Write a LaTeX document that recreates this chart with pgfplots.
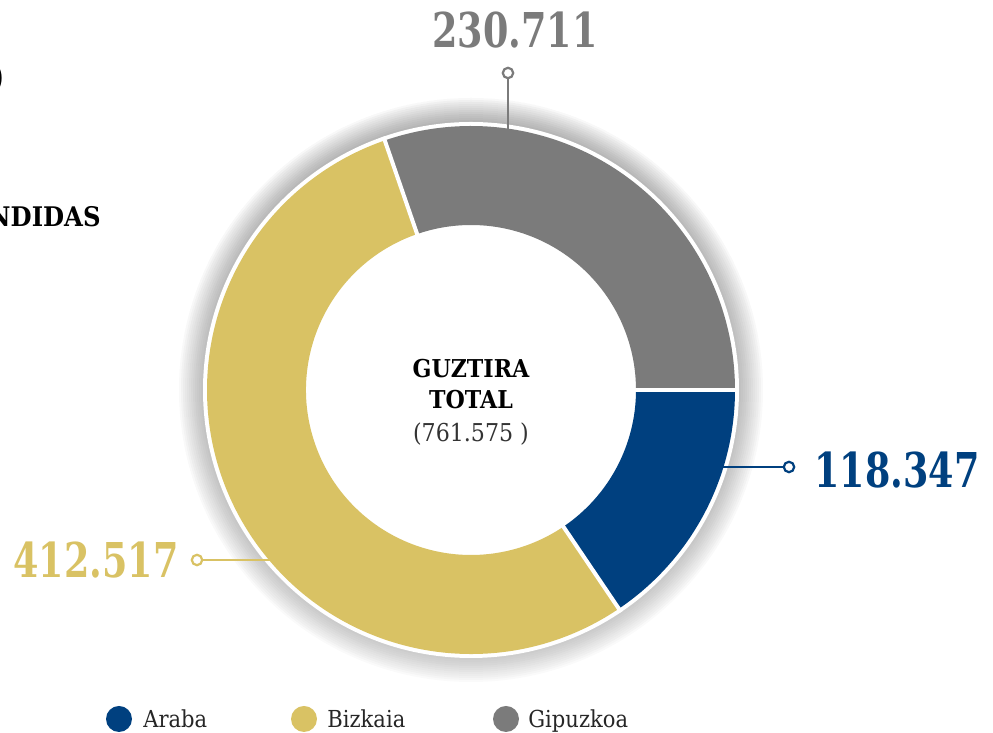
\documentclass[border=0pt]{standalone}
\usepackage{pgfplots}
\pgfplotsset{compat=1.18}
\usepackage{fontspec}
\setmainfont{DejaVu Serif}[FakeStretch=0.9]
\newfontfamily\numfont{DejaVu Serif}[FakeStretch=0.76]
\definecolor{araba}{HTML}{00407F}
\definecolor{bizkaia}{HTML}{D9C264}
\definecolor{gipuzkoa}{HTML}{7B7B7B}
\definecolor{shade}{HTML}{6A6378}

% values (thousands)
\def\vAraba{118.347}
\def\vBizkaia{412.517}
\def\vGipuzkoa{230.711}
\pgfmathsetmacro\tot{\vAraba+\vBizkaia+\vGipuzkoa}
\pgfmathsetmacro\aA{-360*(\vAraba/\tot)}
\pgfmathsetmacro\aB{\aA-360*(\vBizkaia/\tot)}
\pgfmathsetmacro\aC{\aB-360*(\vGipuzkoa/\tot)}

% ring sector: start angle, end angle, colour
\newcommand\sector[3]{%
  \fill[#3] ([shift={(#1:132pt)}]c) arc[start angle=#1, end angle=#2, radius=132pt]
    -- ([shift={(#2:82.5pt)}]c) arc[start angle=#2, end angle=#1, radius=82.5pt] -- cycle;}
\newcommand\sep[1]{%
  \draw[white, line width=2pt] ([shift={(#1:80pt)}]c) -- ([shift={(#1:134pt)}]c);}

\begin{document}
\begin{tikzpicture}
\begin{axis}[x=0.5pt, y=0.5pt, xmin=0, xmax=993, ymin=0, ymax=733,
  hide axis, clip=false, scale only axis]
  \coordinate (ll) at (axis cs:0,0);
  \coordinate (ur) at (axis cs:993,733);
  \coordinate (c) at (axis cs:471,343);
  % soft shadow
  \pgfplotsinvokeforeach{134,135,...,146}{%
    \fill[shade, opacity=0.018] (c) circle[radius=#1pt];}
  \fill[white] (c) circle[radius=134pt];
  \sector{0}{\aA}{araba}
  \sector{\aA}{\aB}{bizkaia}
  \sector{\aB}{\aC}{gipuzkoa}
  \sep{0}\sep{\aA}\sep{\aB}
  % connectors
  \draw[gipuzkoa, line width=1.1pt] (axis cs:508,603) -- (axis cs:508,655);
  \draw[gipuzkoa, line width=1.1pt, fill=white] (axis cs:508,660) circle[radius=2.6pt];
  \draw[araba, line width=1.1pt] (axis cs:722,266) -- (axis cs:784,266);
  \draw[araba, line width=1.1pt, fill=white] (axis cs:789,266) circle[radius=2.6pt];
  \draw[bizkaia, line width=1.1pt] (axis cs:270,173) -- (axis cs:202,173);
  \draw[bizkaia, line width=1.1pt, fill=white] (axis cs:197,173) circle[radius=2.6pt];
  % value labels
  \node[text=gipuzkoa, font=\numfont\bfseries\fontsize{24}{24}\selectfont] at (axis cs:515,703) {230.711};
  \node[text=araba, font=\numfont\bfseries\fontsize{24}{24}\selectfont] at (axis cs:897,263) {118.347};
  \node[text=bizkaia, font=\numfont\bfseries\fontsize{24}{24}\selectfont] at (axis cs:96,173) {412.517};
  % centre
  \node[font=\bfseries\fontsize{12.3}{14}\selectfont] at (axis cs:471,364) {GUZTIRA};
  \node[font=\bfseries\fontsize{12.3}{14}\selectfont] at (axis cs:471,333) {TOTAL};
  \node[text=black!80, font=\fontsize{12.3}{14}\selectfont] at (axis cs:471,299) {(761.575 )};
  % left text (cut by the page edge, as in the source)
  \node[anchor=east, inner sep=0pt, font=\bfseries\fontsize{20}{22}\selectfont] at (axis cs:6,655) {(2022)};
  \node[anchor=east, inner sep=0pt, font=\bfseries\fontsize{13.5}{16}\selectfont] at (axis cs:101,516) {ATENDIDAS};
  % legend
  \fill[araba] (axis cs:119,14) circle[radius=6.5pt];
  \fill[bizkaia] (axis cs:304,14) circle[radius=6.5pt];
  \fill[gipuzkoa] (axis cs:506,14) circle[radius=6.5pt];
  \node[anchor=base west, inner sep=0pt, text=black!85, font=\fontsize{11.7}{14}\selectfont] at (axis cs:143,5) {Araba};
  \node[anchor=base west, inner sep=0pt, text=black!85, font=\fontsize{11.7}{14}\selectfont] at (axis cs:327,5) {Bizkaia};
  \node[anchor=base west, inner sep=0pt, text=black!85, font=\fontsize{11.7}{14}\selectfont] at (axis cs:528,5) {Gipuzkoa};
\end{axis}
\pgfresetboundingbox
\path[use as bounding box] (ll) rectangle (ur);
\end{tikzpicture}
\end{document}
